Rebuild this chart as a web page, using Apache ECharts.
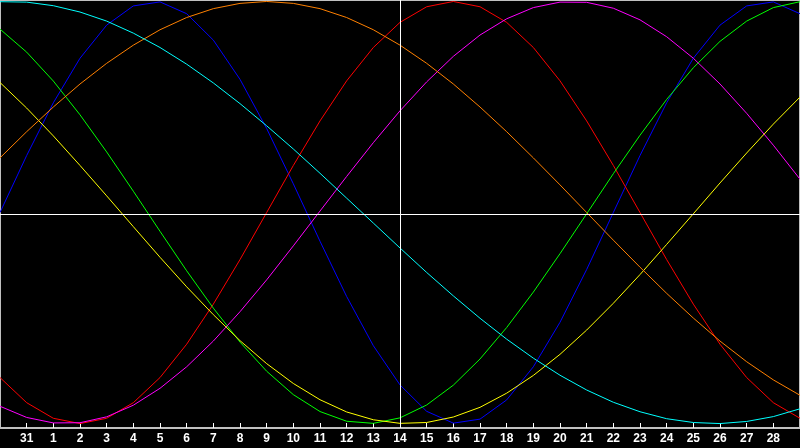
<!DOCTYPE html>
<html>
<head>
<meta charset="utf-8">
<style>
html,body{margin:0;padding:0;background:#000;}
#c{width:800px;height:448px;}
</style>
<script src="https://cdn.jsdelivr.net/npm/echarts@6/dist/echarts.min.js"></script>
</head>
<body>
<div id="c"></div>
<script>
// Day labels (first and last category are unlabeled edge days)
var days = ['30','31','1','2','3','4','5','6','7','8','9','10','11','12','13','14','15','16','17','18','19','20','21','22','23','24','25','26','27','28','29'];

var blue = [0.000,0.270,0.520,0.731,0.888,0.979,0.998,0.942,0.817,0.631,0.398,0.136,-0.136,-0.398,-0.631,-0.817,-0.942,-0.998,-0.979,-0.888,-0.731,-0.520,-0.270,0.000,0.270,0.520,0.731,0.888,0.979,0.998,0.942];
var red = [-0.782,-0.901,-0.975,-1.000,-0.975,-0.901,-0.782,-0.624,-0.434,-0.223,0.000,0.223,0.434,0.624,0.782,0.901,0.975,1.000,0.975,0.901,0.782,0.624,0.434,0.223,0.000,-0.223,-0.434,-0.624,-0.782,-0.901,-0.975];
var green = [0.869,0.760,0.623,0.463,0.287,0.101,-0.089,-0.276,-0.453,-0.614,-0.752,-0.863,-0.943,-0.989,-0.999,-0.973,-0.912,-0.818,-0.694,-0.545,-0.377,-0.195,-0.006,0.184,0.366,0.536,0.686,0.811,0.907,0.971,0.999];
var magenta = [-0.918,-0.971,-0.997,-0.996,-0.968,-0.913,-0.833,-0.731,-0.609,-0.470,-0.319,-0.158,0.007,0.171,0.331,0.482,0.619,0.740,0.841,0.918,0.971,0.997,0.996,0.968,0.913,0.833,0.731,0.609,0.470,0.319,0.158];
var yellow = [0.616,0.495,0.363,0.223,0.079,-0.067,-0.212,-0.352,-0.484,-0.607,-0.716,-0.810,-0.887,-0.945,-0.982,-0.999,-0.995,-0.969,-0.923,-0.856,-0.772,-0.672,-0.557,-0.430,-0.294,-0.151,-0.006,0.140,0.282,0.419,0.547];
var orange = [0.259,0.383,0.500,0.609,0.707,0.793,0.866,0.924,0.966,0.991,1.000,0.991,0.966,0.924,0.866,0.793,0.707,0.609,0.500,0.383,0.259,0.131,0.000,-0.131,-0.259,-0.383,-0.500,-0.609,-0.707,-0.793,-0.866];
var cyan = [0.999,0.997,0.980,0.950,0.907,0.850,0.782,0.703,0.614,0.516,0.411,0.301,0.186,0.068,-0.050,-0.168,-0.284,-0.395,-0.501,-0.600,-0.690,-0.771,-0.841,-0.899,-0.944,-0.977,-0.995,-1.000,-0.990,-0.967,-0.930];

var todayIndex = 15;   // category index of "14"
var centerValue = -0.007;

function line(name, data, color) {
  return {
    name: name, type: 'line', data: data, showSymbol: false, symbol: 'none',
    lineStyle: {color: color, width: 1}, itemStyle: {color: color}, z: 3
  };
}

var series = [
  {
    type: 'line', data: [], silent: true,
    markLine: {
      silent: true, symbol: 'none', animation: false,
      label: {show: false},
      lineStyle: {color: '#ffffff', width: 1, type: 'solid'},
      data: [{yAxis: centerValue}, {xAxis: todayIndex}]
    },
    z: 2
  },
  line('blue', blue, '#0000ff'),
  line('red', red, '#ff0000'),
  line('green', green, '#00ff00'),
  line('magenta', magenta, '#ff00ff'),
  line('yellow', yellow, '#ffff00'),
  line('orange', orange, '#ff8000'),
  line('cyan', cyan, '#00ffff')
];

var chart = echarts.init(document.getElementById('c'), null, {renderer: 'canvas'});
var showIdx = function (i) { return i > 0 && i < days.length - 1; };
chart.setOption({
  animation: false,
  backgroundColor: '#000000',
  grid: {left: 0, right: 0, top: 0, height: 428, show: true, borderColor: '#c0c0c0', borderWidth: 2, backgroundColor: 'transparent'},
  xAxis: {
    type: 'category', data: days, boundaryGap: false, position: 'bottom',
    axisLine: {show: true, onZero: false, lineStyle: {color: '#c0c0c0', width: 1}},
    axisTick: {show: true, inside: true, length: 5, interval: showIdx, lineStyle: {color: '#ffffff', width: 1}},
    axisLabel: {show: true, interval: showIdx, color: '#ffffff', fontFamily: 'Liberation Sans', fontWeight: 'bold', fontSize: 12, margin: 5},
    splitLine: {show: false}
  },
  yAxis: {
    type: 'value', min: -1.021, max: 1.007,
    axisLine: {show: false}, axisTick: {show: false}, axisLabel: {show: false}, splitLine: {show: false}
  },
  series: series
});
</script>
</body>
</html>
